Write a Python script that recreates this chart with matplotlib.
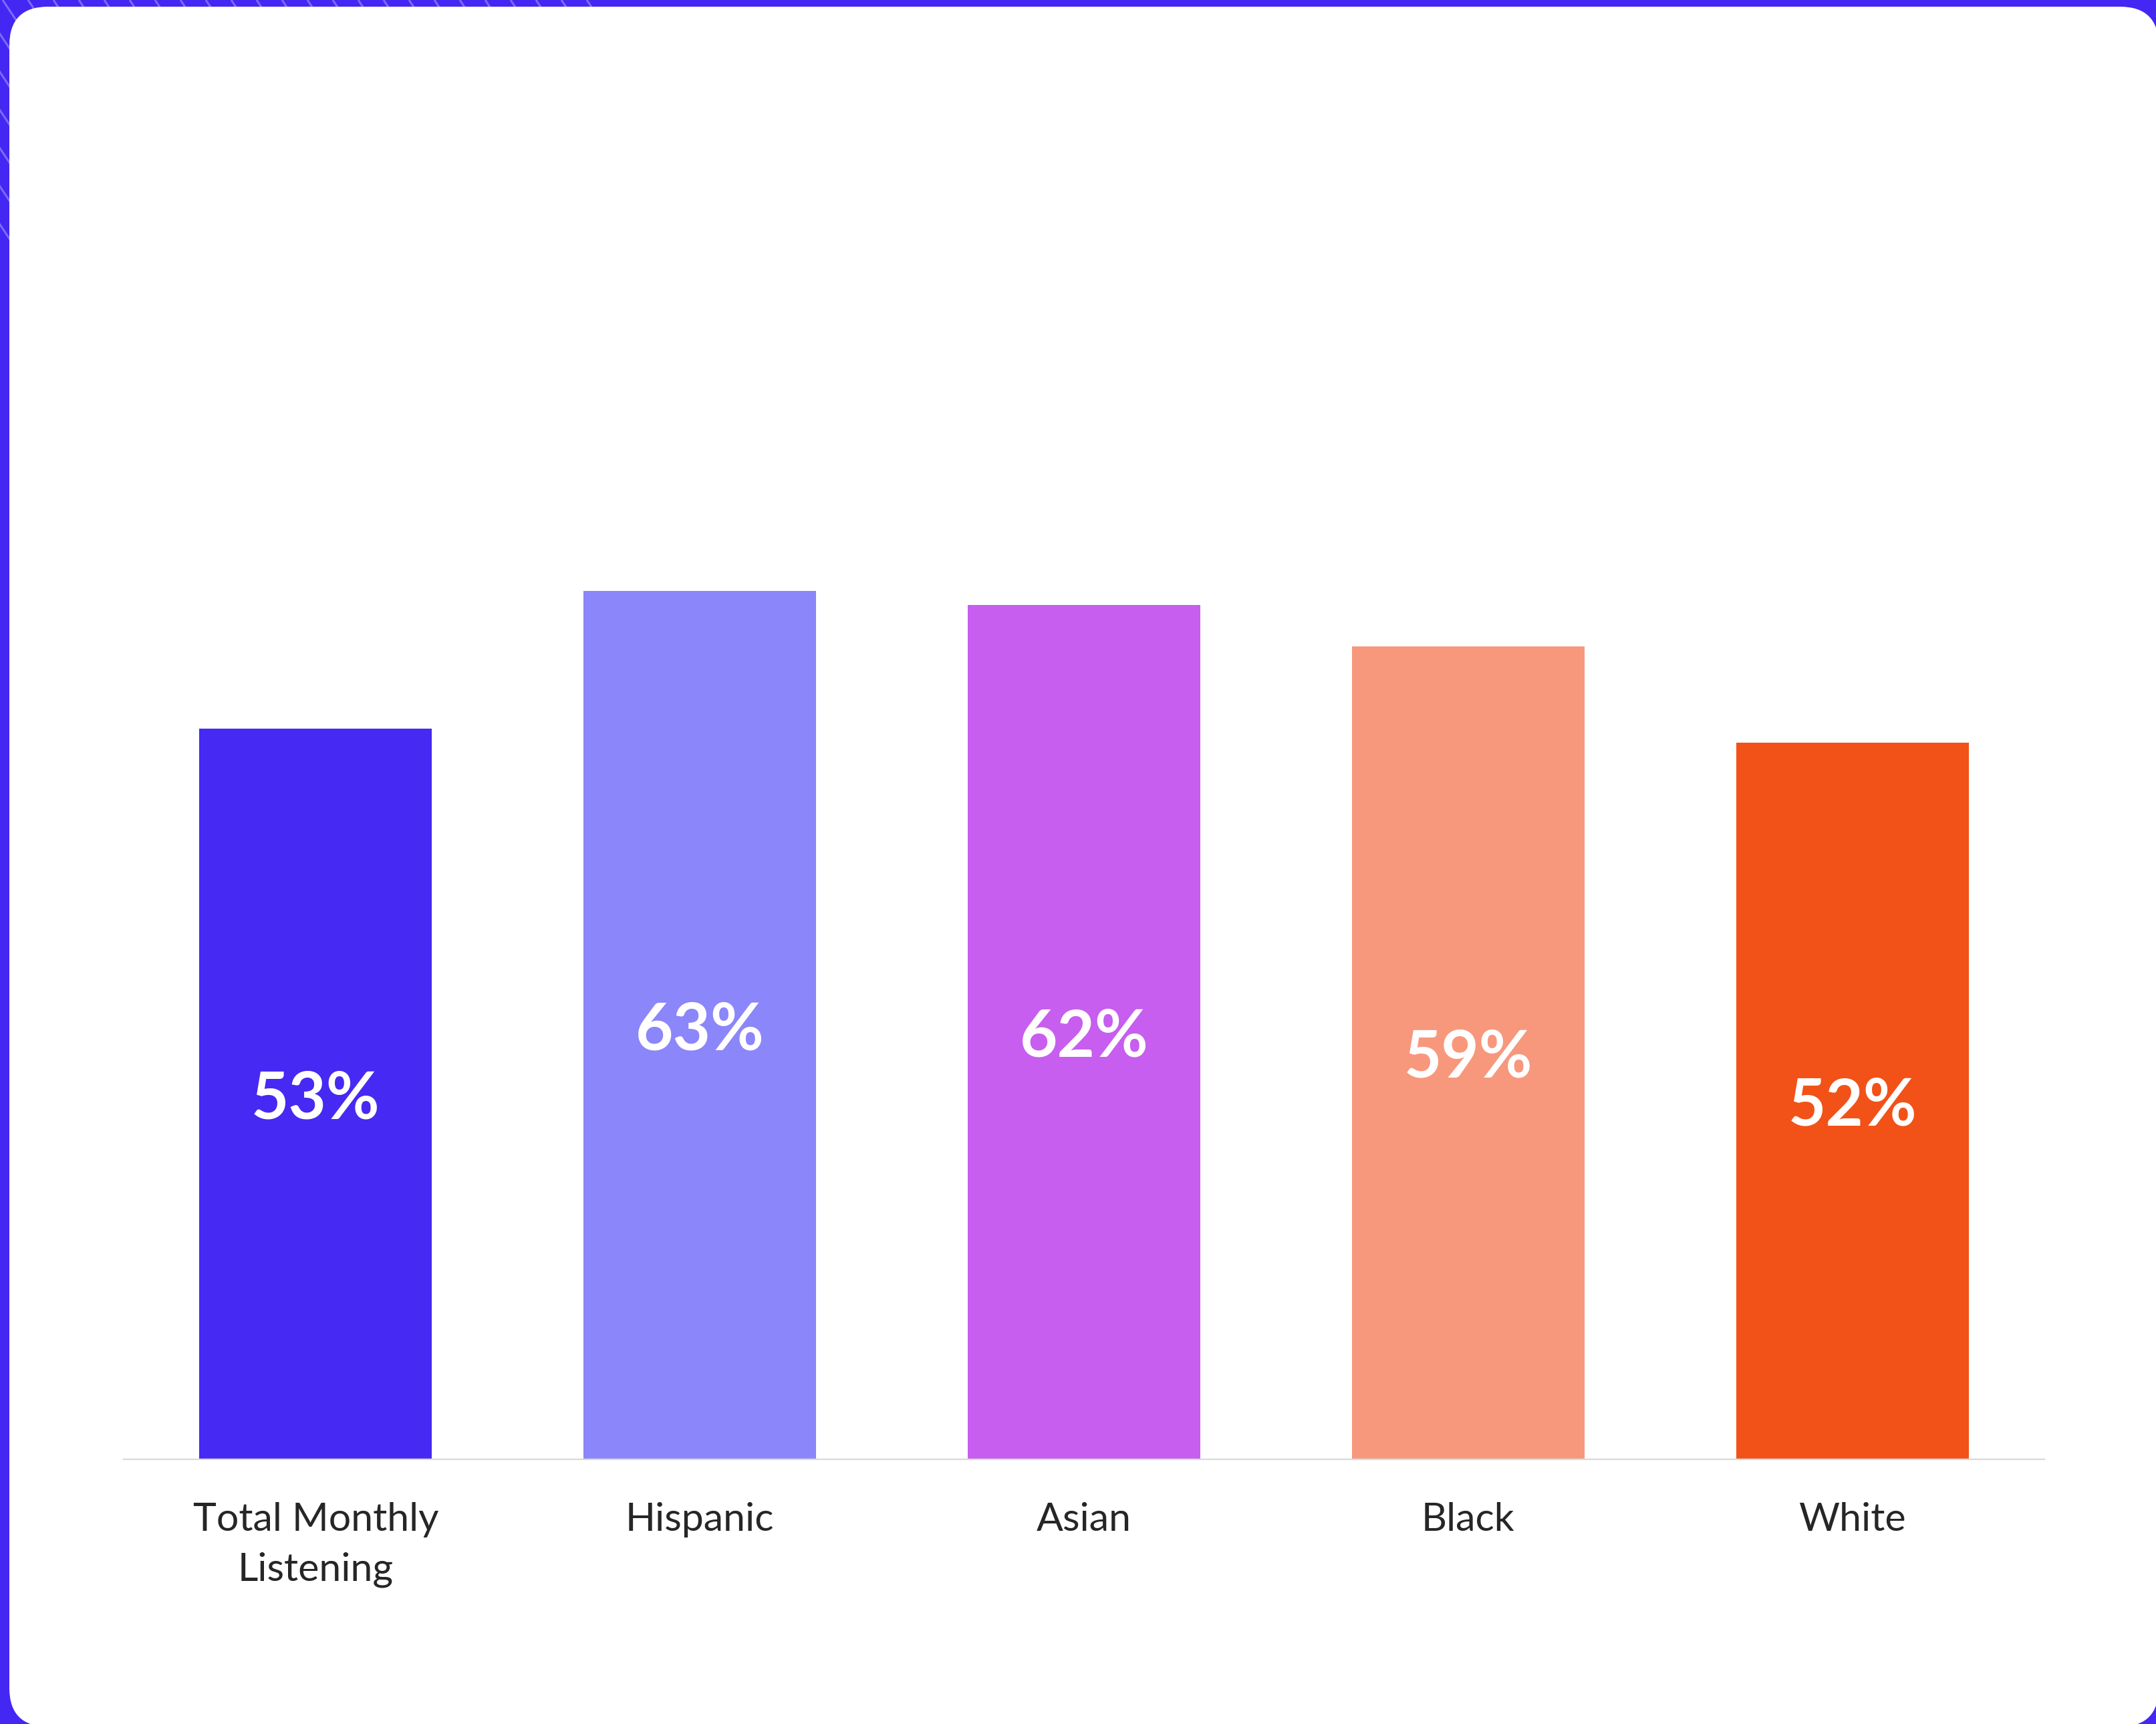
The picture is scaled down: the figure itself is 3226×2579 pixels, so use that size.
import matplotlib.pyplot as plt
from matplotlib.patches import FancyBboxPatch

# listening share by group
groups = ['Total Monthly\nListening', 'Hispanic', 'Asian', 'Black', 'White']
shares = [53, 63, 62, 59, 52]
bar_colors = ['#4629F2', '#8B86F9', '#C75EEF', '#F7987D', '#F25217']

W, H = 3226, 2579
DPI = 100
plt.rcParams['font.family'] = ['Lato', 'DejaVu Sans']

fig = plt.figure(figsize=(W / DPI, H / DPI), dpi=DPI, facecolor='#4427F3')

# background layer in pixel units: stripes on the blue frame, white rounded card
bg = fig.add_axes([0, 0, 1, 1])
bg.set_xlim(0, W)
bg.set_ylim(H, 0)
bg.axis('off')
for c in range(-300, 900, 38):
    bg.plot([c, c + 260], [0, 390], color='#8A7CF6', lw=2.2, alpha=0.8,
            solid_capstyle='butt')
card = FancyBboxPatch((14, 10), W - 14 + 4, H - 10 + 4,
                      boxstyle='round,pad=0,rounding_size=58',
                      facecolor='white', edgecolor='none', zorder=5)
bg.add_patch(card)

ax = fig.add_axes([0.0573, 0.1536, 0.8910, 0.7993])
ax.set_facecolor('none')
x = range(len(groups))
bars = ax.bar(x, shares, width=0.605, color=bar_colors, zorder=2)

for rect, v in zip(bars, shares):
    ax.text(rect.get_x() + rect.get_width() / 2, v / 2, f'{v}%',
            ha='center', va='center_baseline', color='white', fontsize=70,
            fontweight='bold', zorder=3)

ax.set_xlim(-0.5, 4.5)
ax.set_ylim(0, 100)
ax.set_xticks(list(x))
ax.set_xticklabels(groups, fontsize=42.5, color='#262626', linespacing=1.5)
ax.tick_params(axis='x', length=0, pad=46)
ax.set_yticks([])
for side in ['top', 'right', 'left']:
    ax.spines[side].set_visible(False)
ax.spines['bottom'].set_color('#D9D9D9')
ax.spines['bottom'].set_linewidth(1.6)

fig.savefig('out.png', dpi=DPI, facecolor=fig.get_facecolor())
